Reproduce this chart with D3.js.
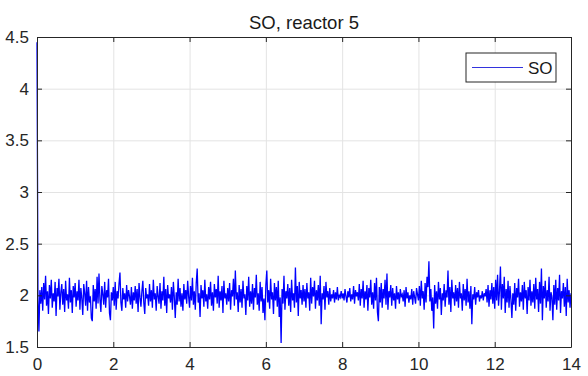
<!DOCTYPE html>
<html>
<head>
<meta charset="utf-8">
<style>
body { margin: 0; background: #ffffff; }
.tick text { font-family: "Liberation Sans", Arial, sans-serif; font-size: 17px; fill: #262626; }
.grid line { stroke: #e3e3e3; stroke-width: 1px; }
.grid path { stroke: none; }
.title { font-family: "Liberation Sans", Arial, sans-serif; font-size: 18.5px; fill: #1a1a1a; }
.leg { font-family: "Liberation Sans", Arial, sans-serif; font-size: 17px; fill: #1a1a1a; }
</style>
<script src="https://d3js.org/d3.v7.min.js"></script>
</head>
<body>
<script>

// sample step in days
var dt = 0.025;

var xTicks = [0, 2, 4, 6, 8, 10, 12, 14];
var yTicks = [1.5, 2, 2.5, 3, 3.5, 4, 4.5];

// SO values, one row per day
var so = [
  4.45,1.98,1.65,2.05,1.92,2.08,1.85,2.12,1.96,2.19,1.90,2.04,1.82,2.10,1.97,2.15,1.88,2.02,1.94,2.13,1.80,2.07,1.99,2.16,1.86,2.03,2.11,1.91,2.06,1.84,2.14,1.95,2.01,1.87,2.17,1.93,2.05,1.83,2.09,1.98,
  2.12,1.89,2.04,1.95,2.15,1.86,2.07,1.97,1.81,2.11,2.02,1.90,2.14,1.85,2.08,1.93,1.99,1.78,1.75,2.10,1.94,2.06,1.87,2.18,1.92,2.21,1.96,1.84,2.09,2.01,1.91,2.13,1.88,2.05,1.98,2.16,1.83,1.76,2.03,1.95,
  2.08,1.90,2.13,1.86,2.04,1.97,2.11,2.22,1.93,1.85,2.07,1.96,2.02,1.88,2.10,1.94,2.05,1.99,1.91,2.08,1.87,2.03,1.95,2.09,1.92,2.06,1.84,2.12,1.98,1.89,2.04,2.14,1.93,1.82,2.07,1.97,2.01,1.90,2.11,1.94,
  2.05,1.88,2.15,1.96,2.02,1.85,2.09,1.99,1.92,2.12,1.87,2.04,1.95,2.18,1.90,2.06,1.83,2.10,1.97,2.01,1.93,2.08,1.86,2.13,1.98,1.78,2.03,1.91,2.16,1.94,2.07,1.89,2.02,1.85,2.11,1.96,2.05,1.92,2.14,1.99,
  1.88,2.09,1.95,2.17,1.91,2.04,1.86,2.12,2.26,1.93,2.02,1.79,2.10,1.97,2.05,1.89,2.15,1.94,2.01,1.87,2.08,1.96,2.13,1.90,2.03,1.85,2.11,1.98,2.06,1.92,2.19,1.88,2.04,1.95,2.09,1.83,2.14,1.97,2.02,1.91,
  2.07,1.94,2.12,1.86,2.05,1.99,2.16,1.90,2.24,1.96,2.03,1.84,2.10,1.93,2.06,1.88,2.14,1.97,2.01,1.81,2.09,1.95,2.18,1.89,2.04,1.92,2.11,1.86,2.07,1.98,2.20,1.91,2.02,1.85,2.13,1.94,2.08,1.83,1.97,1.76,
  2.10,2.24,1.93,2.05,1.87,2.16,1.96,2.03,1.82,2.12,1.95,2.08,1.89,2.14,1.79,1.98,1.54,2.06,1.92,2.19,1.86,2.04,1.97,2.11,1.90,2.07,1.84,2.15,1.95,2.02,1.88,2.27,1.93,2.09,1.80,2.13,1.97,2.05,1.91,2.10,
  1.94,2.06,1.88,2.12,1.97,2.03,1.85,2.17,1.92,2.08,1.99,2.14,1.87,2.05,1.95,2.10,1.90,2.19,1.72,2.02,1.96,2.09,1.86,2.13,1.98,2.04,1.91,2.07,1.94,2.01,1.97,2.05,1.93,2.03,1.96,2.08,1.95,2.00,1.98,2.04,
  1.97,2.02,1.95,2.06,1.99,1.93,2.04,1.98,2.07,1.94,2.01,1.96,2.09,1.92,2.05,1.99,2.03,1.95,2.11,1.90,2.06,1.97,2.14,1.88,2.04,1.96,2.10,1.85,2.07,1.98,2.15,1.91,2.03,1.87,2.12,1.95,2.17,1.84,1.75,2.08,
  1.93,2.12,1.88,2.06,1.97,2.15,1.91,2.21,1.86,2.04,1.98,2.10,1.90,2.07,1.95,2.02,1.87,2.09,1.96,2.03,1.92,2.06,1.99,2.01,1.94,2.05,1.89,2.08,1.97,2.03,1.93,2.00,1.96,2.06,1.91,2.04,1.98,1.92,2.07,2.01,
  1.95,2.09,1.90,2.14,1.97,2.04,1.86,2.12,1.93,2.18,2.08,2.33,1.94,2.06,1.85,1.98,1.68,2.10,1.92,2.04,1.87,2.13,1.96,2.07,1.81,2.02,1.95,2.11,1.89,2.05,1.98,2.24,1.91,2.08,1.84,2.15,1.97,2.03,1.90,2.10,
  1.94,2.07,1.88,2.13,1.97,2.02,1.85,2.11,1.95,2.06,1.90,2.16,1.93,2.04,1.87,2.09,1.72,2.01,1.96,2.08,1.91,2.03,1.98,2.05,1.94,2.00,1.97,2.04,1.95,2.02,1.99,2.06,1.93,2.10,1.89,2.05,1.96,2.12,1.92,2.08,
  1.87,2.15,1.95,2.20,1.90,2.04,2.28,1.86,2.11,1.97,2.18,1.83,2.06,1.93,2.14,1.88,2.09,1.96,1.78,2.02,1.91,2.12,1.85,2.07,1.98,2.16,1.89,2.03,1.94,2.10,1.86,2.13,1.97,2.05,1.82,2.08,1.95,2.15,1.90,2.04,
  1.93,2.11,1.87,2.17,1.96,2.06,1.84,2.13,1.92,2.26,1.76,2.09,1.97,2.14,1.88,2.05,1.94,2.18,1.85,2.03,1.98,1.76,2.10,1.91,2.15,1.86,2.07,1.95,2.20,1.83,2.04,1.97,2.12,1.89,2.08,1.80,2.16,1.93,2.05,1.88,
  2.02
];

var W = 588, H = 376;
var margin = {top: 37, right: 17, bottom: 29, left: 37};
var width = W - margin.left - margin.right,
    height = H - margin.top - margin.bottom;

var svg = d3.select("body").append("svg")
    .attr("width", W)
    .attr("height", H);

var g = svg.append("g")
    .attr("transform", "translate(" + margin.left + "," + margin.top + ")");

var x = d3.scaleLinear().domain([0, 14]).range([0, width]);
var y = d3.scaleLinear().domain([1.5, 4.5]).range([height, 0]);

// grid
g.append("g").attr("class", "grid")
  .attr("transform", "translate(0," + height + ")")
  .call(d3.axisBottom(x).tickValues(xTicks).tickSize(-height).tickFormat(""));
g.append("g").attr("class", "grid")
  .call(d3.axisLeft(y).tickValues(yTicks).tickSize(-width).tickFormat(""));

// data line
var line = d3.line()
  .x(function(d, i) { return x(i * dt); })
  .y(function(d) { return y(d); });

g.append("path")
  .datum(so)
  .attr("fill", "none")
  .attr("stroke", "#0000ff")
  .attr("stroke-width", 1.3)
  .attr("d", line);

// axes, ticks pointing inward
var axCol = "#262626";
function styleAxis(sel) {
  sel.select(".domain").attr("stroke", axCol);
  sel.selectAll(".tick line").attr("stroke", axCol);
}

g.append("g")
  .attr("transform", "translate(0," + height + ")")
  .call(d3.axisBottom(x).tickValues(xTicks).tickSizeInner(-5).tickSizeOuter(0).tickPadding(11).tickFormat(d3.format("d")))
  .call(styleAxis);

g.append("g")
  .call(d3.axisLeft(y).tickValues(yTicks).tickSizeInner(-5).tickSizeOuter(0).tickPadding(8).tickFormat(function(d) { return d; }))
  .call(styleAxis);

g.append("g")
  .call(d3.axisTop(x).tickValues(xTicks).tickSizeInner(-5).tickSizeOuter(0).tickFormat(""))
  .call(styleAxis);

g.append("g")
  .attr("transform", "translate(" + width + ",0)")
  .call(d3.axisRight(y).tickValues(yTicks).tickSizeInner(-5).tickSizeOuter(0).tickFormat(""))
  .call(styleAxis);

// title
svg.append("text")
  .attr("class", "title")
  .attr("x", margin.left + width / 2)
  .attr("y", 29)
  .attr("text-anchor", "middle")
  .text("SO, reactor 5");

// legend
var leg = svg.append("g").attr("transform", "translate(466,53)");
leg.append("rect")
  .attr("width", 90).attr("height", 29)
  .attr("fill", "#ffffff")
  .attr("stroke", axCol);
leg.append("line")
  .attr("x1", 6).attr("x2", 57)
  .attr("y1", 14.5).attr("y2", 14.5)
  .attr("stroke", "#3333dd").attr("stroke-width", 1);
leg.append("text")
  .attr("class", "leg")
  .attr("x", 62).attr("y", 20.5)
  .text("SO");

</script>
</body>
</html>
